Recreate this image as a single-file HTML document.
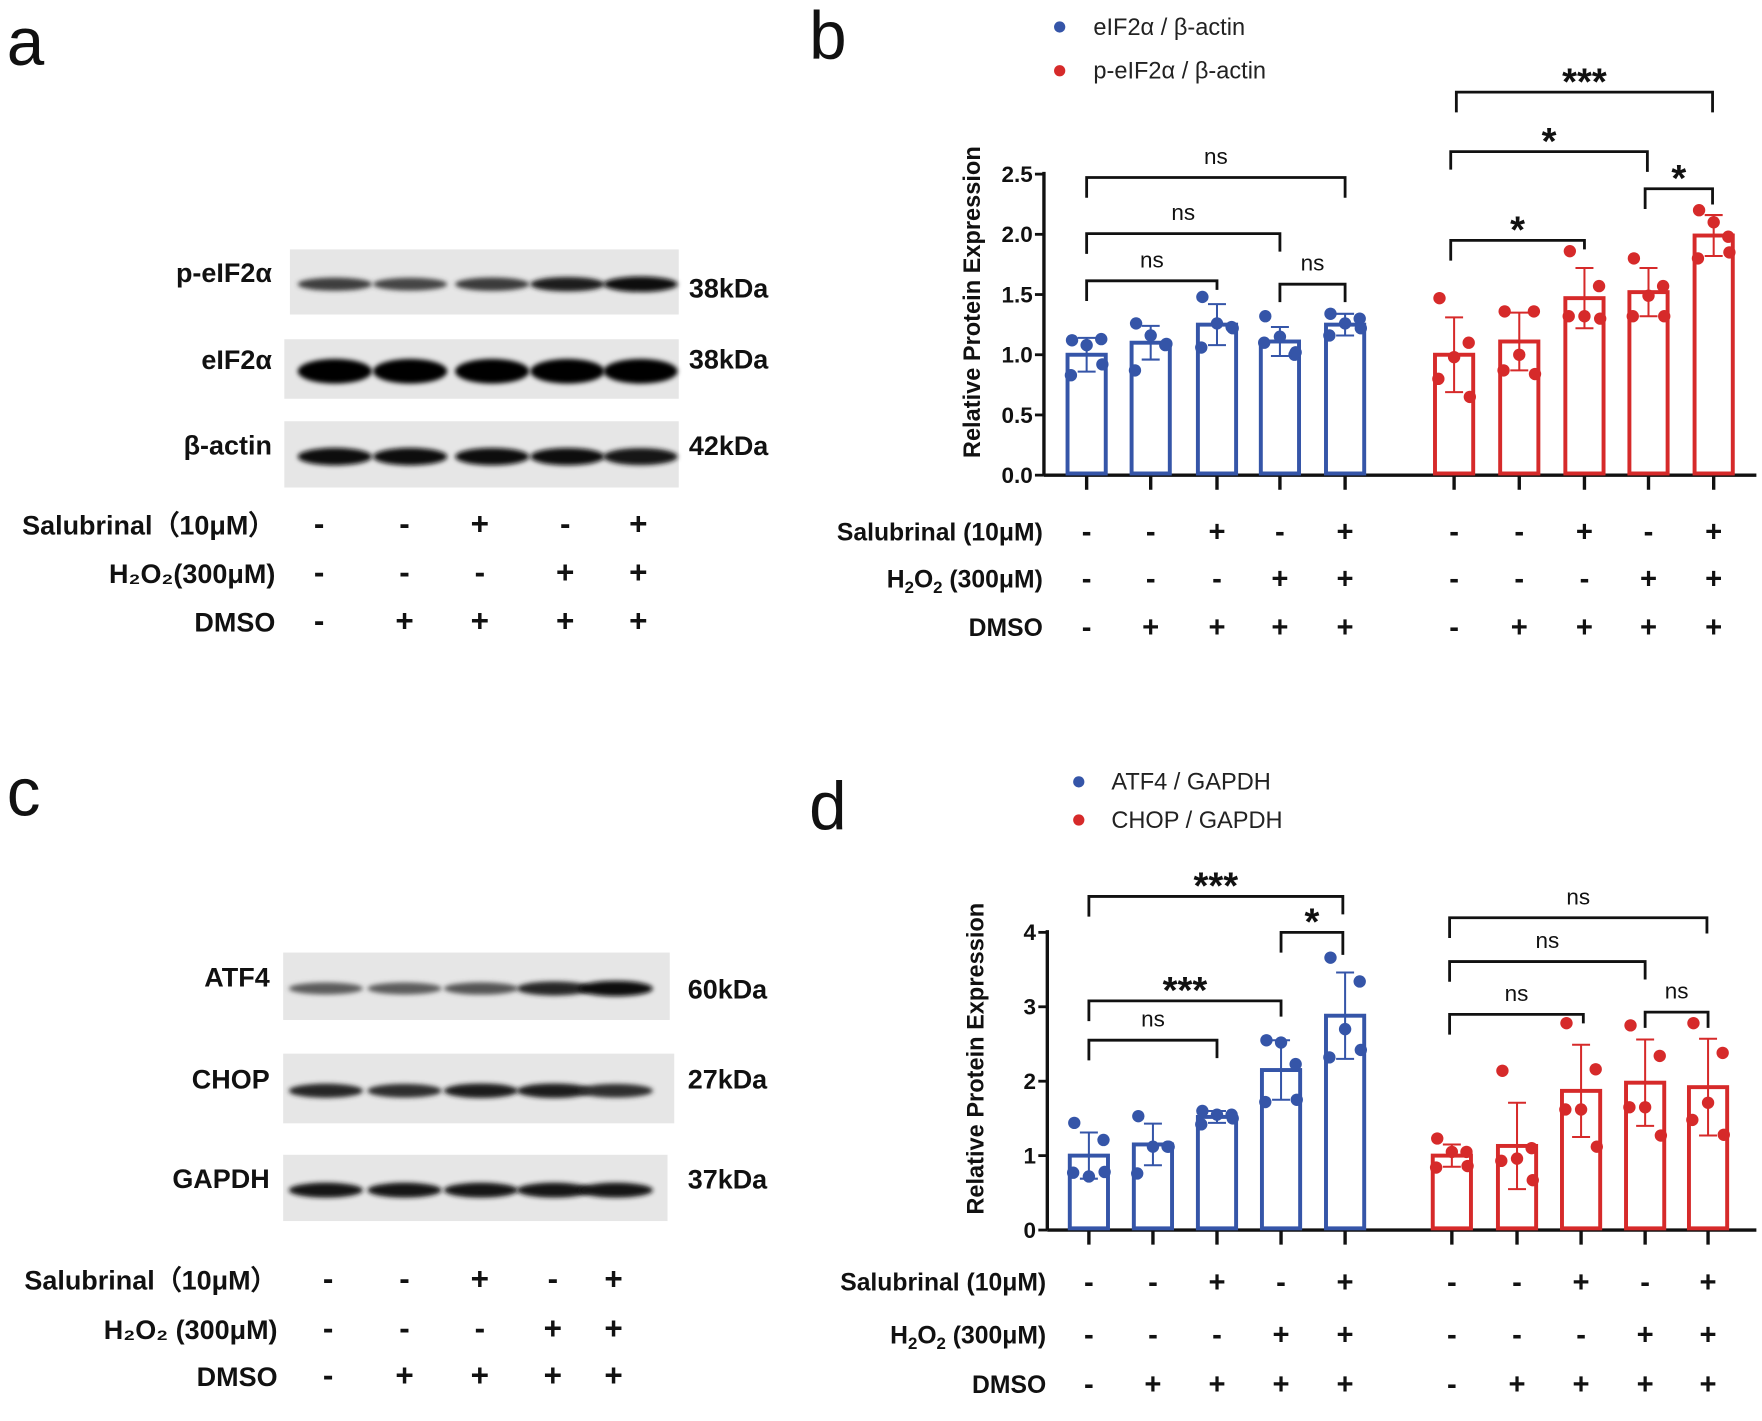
<!DOCTYPE html>
<html><head><meta charset="utf-8"><style>
html,body{margin:0;padding:0;background:#fff;}
svg{display:block;font-family:"Liberation Sans",sans-serif;}
.lbl{font-weight:bold;fill:#111;}
.tk{font-weight:bold;fill:#111;}
.sg{font-weight:bold;fill:#111;}
</style></head><body>
<svg id="fig" width="1762" height="1421" viewBox="0 0 1568 1265" preserveAspectRatio="none" xmlns="http://www.w3.org/2000/svg">
<defs><filter id="blur" x="-20%" y="-50%" width="140%" height="200%"><feGaussianBlur stdDeviation="2.2"/></filter></defs>
<text x="6" y="58" font-size="60" fill="#111">a</text>
<text x="720" y="52" font-size="60" fill="#111">b</text>
<text x="6" y="726" font-size="60" fill="#111">c</text>
<text x="720" y="738" font-size="60" fill="#111">d</text>
<g id="content"></g>
</svg>
<script>
// ---- data panel b ----
const groupsB = ["eIF2α / β-actin","p-eIF2α / β-actin"];
const meanB_blue = [1.00,1.10,1.25,1.11,1.25];
const sdB_blue = [0.14,0.14,0.17,0.12,0.09];
const ptsB_blue = [[1.12,1.13,1.08,0.83,0.92],[1.26,1.08,1.16,0.87,1.09],[1.48,1.23,1.26,1.06,1.22],[1.32,1.00,1.15,1.10,1.02],[1.34,1.30,1.26,1.16,1.22]];
const meanB_red = [1.00,1.11,1.47,1.52,1.99];
const sdB_red = [0.31,0.24,0.25,0.20,0.17];
const ptsB_red = [[1.47,1.10,0.98,0.80,0.65],[1.36,1.36,1.00,0.87,0.84],[1.86,1.57,1.32,1.32,1.30],[1.80,1.57,1.49,1.32,1.32],[2.20,1.98,2.10,1.80,1.85]];
const ticksB = [0,0.5,1.0,1.5,2.0,2.5];
const tickLabelsB = ["0.0","0.5","1.0","1.5","2.0","2.5"];
// ---- data panel d ----
const groupsD = ["ATF4 / GAPDH","CHOP / GAPDH"];
const meanD_blue = [1.00,1.15,1.52,2.15,2.88];
const sdD_blue = [0.31,0.28,0.08,0.40,0.58];
const ptsD_blue = [[1.44,1.21,0.72,0.77,0.78],[1.53,1.12,1.12,0.76,1.12],[1.60,1.55,1.55,1.42,1.50],[2.55,2.23,2.52,1.72,1.75],[3.66,3.34,2.70,2.32,2.42]];
const meanD_red = [1.00,1.13,1.87,1.98,1.92];
const sdD_red = [0.15,0.58,0.62,0.58,0.65];
const ptsD_red = [[1.23,1.05,1.05,0.84,0.86],[2.14,1.10,0.96,0.93,0.67],[2.78,2.16,1.62,1.62,1.12],[2.75,2.34,1.65,1.65,1.27],[2.78,2.38,1.71,1.48,1.28]];
const ticksD = [0,1,2,3,4];
const tickLabelsD = ["0","1","2","3","4"];
const salB = ["-","-","+","-","+"], h2o2B = ["-","-","-","+","+"], dmsoB = ["-","+","+","+","+"];
// ---- blot band intensities ----
const blotA = {"p-eIF2α":[0.6,0.55,0.62,0.8,0.95],"eIF2α":[1,1,1,1,1],"β-actin":[0.92,0.92,0.9,0.9,0.88]};
const blotC = {"ATF4":[0.4,0.4,0.45,0.75,0.95],"CHOP":[0.75,0.7,0.82,0.82,0.7],"GAPDH":[0.88,0.88,0.88,0.88,0.88]};

const NS="http://www.w3.org/2000/svg";
const root=document.getElementById('content');
function el(tag,attrs,parent,text){const e=document.createElementNS(NS,tag);for(const k in attrs){if(k==='font-size')e.style.fontSize=attrs[k]+'px';else e.setAttribute(k,attrs[k]);}if(text!==undefined)e.textContent=text;(parent||root).appendChild(e);return e;}
const BLUE="#3555a8", RED="#d62a2a";
const jit=[-13,13,0,-14,14];

function chart(opt){
  const g=el('g',{});
  
  
  const y=v=>opt.y0-(v/opt.vmax)*(opt.y0-opt.ytop);
  const ax=el('line',{x1:opt.ax,y1:opt.ytop-2,x2:opt.ax,y2:opt.y0,stroke:'#111','stroke-width':3},g);
  
  const xa=el('line',{x1:opt.ax,y1:opt.y0,x2:1563,y2:opt.y0,stroke:'#111','stroke-width':3},g);
  
  opt.ticks.forEach((t,i)=>{
    el('line',{x1:opt.ax-8,y1:y(t),x2:opt.ax,y2:y(t),stroke:'#111','stroke-width':2.5},g);
    const tl=el('text',{x:opt.ax-10,y:y(t)+7,'text-anchor':'end',class:'tk','font-size':20},g,opt.tickLabels[i]);
    
  });
  const yt=el('text',{x:0,y:0,class:'tk',transform:`translate(${opt.ax-57},${(opt.y0+opt.ytop)/2-20}) rotate(-90)`,'text-anchor':'middle','font-size':21},g,'Relative Protein Expression');
  
  const series=[[opt.xb,opt.mb,opt.sb,opt.pb,BLUE],[opt.xr,opt.mr,opt.sr,opt.pr,RED]];
  series.forEach(([xs,m,s,p,c],si)=>{
    xs.forEach((x,i)=>{
      el('line',{x1:x,y1:opt.y0,x2:x,y2:opt.y0+13,stroke:'#111','stroke-width':3},g);
      const b=el('rect',{x:x-17,y:y(m[i]),width:34,height:opt.y0-y(m[i])-1.5,fill:'none',stroke:c,'stroke-width':3.5},g);
      
      el('line',{x1:x,y1:y(m[i]+s[i]),x2:x,y2:y(m[i]-s[i]),stroke:c,'stroke-width':1.8},g);
      el('line',{x1:x-8,y1:y(m[i]+s[i]),x2:x+8,y2:y(m[i]+s[i]),stroke:c,'stroke-width':1.8},g);
      el('line',{x1:x-8,y1:y(m[i]-s[i]),x2:x+8,y2:y(m[i]-s[i]),stroke:c,'stroke-width':1.8},g);
      p[i].forEach((v,j)=>{const d=el('circle',{cx:x+jit[j],cy:y(v),r:5.5,fill:c},g);
        });
    });
  });
  const rows=[["Salubrinal (10μM)",salB],[opt.h2o2,h2o2B],["DMSO",dmsoB]];
  rows.forEach(([lab,vals],r)=>{
    const ry=opt.rows[r];
    const t=el('text',{x:opt.ax-1,y:ry+7,'text-anchor':'end',class:'lbl','font-size':22},g);
    
    t.innerHTML=lab;
    opt.xb.concat(opt.xr).forEach((x,i)=>{
      const sgn=el('text',{x:x,y:ry+8,'text-anchor':'middle',class:'sg','font-size':26},g,vals[i%5]);
      
    });
  });
  [[BLUE,opt.groups[0]],[RED,opt.groups[1]]].forEach(([c,n],i)=>{
    el('circle',{cx:opt.leg[0],cy:opt.leg[1]+i*opt.leg[3],r:5,fill:c},g);
    const lt=el('text',{x:opt.leg[2],y:opt.leg[1]+i*opt.leg[3]+7,'font-size':21,fill:'#222'},g,n);
    
  });
  opt.br.forEach(([x1,x2,yy,lab,d1,d2])=>{
    const pth=el('path',{d:`M${x1},${yy+(d1||18)} V${yy} H${x2} V${yy+(d2||18)}`,fill:'none',stroke:'#111','stroke-width':2.5},g);
    
    const st=lab==='ns';
    const bt=el('text',{x:(x1+x2)/2,y:st?yy-12:yy+2,'text-anchor':'middle','font-size':st?20:34,'font-weight':st?'normal':'bold',fill:'#111'},g,lab);
    
  });
}
chart({name:'chart-b',ax:929,y0:423,ytop:155,vmax:2.5,ticks:ticksB,tickLabels:tickLabelsB,
 xb:[967,1024,1083,1139,1197],xr:[1294,1352,1410,1467,1525],
 mb:meanB_blue,sb:sdB_blue,pb:ptsB_blue,mr:meanB_red,sr:sdB_red,pr:ptsB_red,
 rows:[474,516,559],h2o2:'H<tspan style="font-size:15px" dy="5">2</tspan><tspan dy="-5">O</tspan><tspan style="font-size:15px" dy="5">2</tspan><tspan dy="-5"> (300μM)</tspan>',
 groups:groupsB,leg:[943,24,973,39],
 br:[[967,1197,158,'ns'],[967,1139,208,'ns',18,16],[967,1083,250,'ns',18,8],[1139,1197,253,'ns',16,16],
     [1296,1524,82,'***'],[1291,1466,135,'*',16,18],[1464,1524,168,'*',18,14],[1291,1410,214,'*',18,8]]});
chart({name:'chart-d',ax:932,y0:1095,ytop:830,vmax:4,ticks:ticksD,tickLabels:tickLabelsD,
 xb:[969,1026,1083,1140,1197],xr:[1292,1350,1407,1464,1520],
 mb:meanD_blue,sb:sdD_blue,pb:ptsD_blue,mr:meanD_red,sr:sdD_red,pr:ptsD_red,
 rows:[1142,1189,1233],h2o2:'H<tspan style="font-size:15px" dy="5">2</tspan><tspan dy="-5">O</tspan><tspan style="font-size:15px" dy="5">2</tspan><tspan dy="-5">  (300μM)</tspan>',
 groups:groupsD,leg:[960,696,989,34],
 br:[[969,1195,798,'***',18,16],[1140,1195,830,'*',18,20],[969,1140,891,'***',18,14],[969,1083,926,'ns',18,16],
     [1290,1519,817,'ns',18,14],[1290,1464,856,'ns',18,16],[1290,1409,903,'ns',18,8],[1464,1520,901,'ns',14,14]]});

function blot(name,data,boxes,lanes,labX,bandH){
  Object.keys(data).forEach((k,r)=>{
    const [x1,y1,x2,y2]=boxes[r];
    const g=el('g',{});
    
    el('rect',{x:x1,y:y1,width:x2-x1,height:y2-y1,fill:'#e6e6e6'},g);
    const cy=(y1+y2)/2+2;
    data[k].forEach((v,i)=>{
      const sh=Math.round(255*(1-v)*0.6);
      el('ellipse',{cx:lanes[i],cy:cy,rx:33,ry:bandH[r]*(0.6+0.4*v),fill:`rgb(${sh},${sh},${sh})`,filter:'url(#blur)'},g);
    });
    const t=el('text',{x:labX,y:cy-2,'text-anchor':'end',class:'lbl',"font-size":24},g,k);
    
  });
}
blot('a',blotA,[[258,222,604,280],[253,302,604,355],[253,375,604,434]],[298,365,438,505,570],242,[7,11,8]);
blot('c',blotC,[[252,848,596,908],[252,938,600,1000],[252,1028,594,1087]],[290,360,428,493,548],240,[7,7,7]);
[["38kDa",257],["38kDa",320],["42kDa",397]].forEach(([t,yy])=>{const e=el('text',{x:613,y:yy+8,class:'lbl',"font-size":24},root,t);});
[["60kDa",881],["27kDa",961],["37kDa",1050]].forEach(([t,yy])=>{const e=el('text',{x:612,y:yy+8,class:'lbl',"font-size":24},root,t);});
function trows(labels,ys,xs,labX){
  const vals=[salB,h2o2B,dmsoB];
  labels.forEach((l,r)=>{
    const t=el('text',{x:labX,y:ys[r]+8,'text-anchor':'end',class:'lbl',"font-size":24},root);
    t.innerHTML=l;
    xs.forEach((x,i)=>{const s=el('text',{x:x,y:ys[r]+8,'text-anchor':'middle',class:'sg','font-size':28},root,vals[r][i]);
      });
  });
}
trows(['Salubrinal（10μM）','H₂O₂(300μM)','DMSO'],[468,511,554],[284,360,427,503,568],245);
trows(['Salubrinal（10μM）','H₂O₂  (300μM)','DMSO'],[1140,1184,1226],[292,360,427,492,546],247);
</script>
</body></html>
